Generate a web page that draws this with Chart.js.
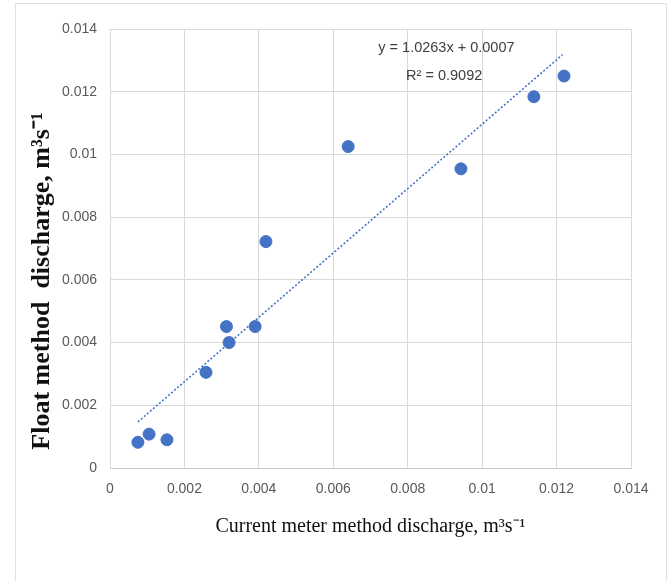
<!DOCTYPE html>
<html>
<head>
<meta charset="utf-8">
<script src="https://cdn.jsdelivr.net/npm/chart.js@4.4.1/dist/chart.umd.min.js"></script>
<style>
    body { margin: 0; background: #fff; }
    #moldura { position: absolute; left: 15px; top: 3px; width: 650px; height: 600px; border: 1px solid #e0e0e0; }
    #grafico1 { position: absolute; left: 0; top: 0; }
</style>
</head>
<body>
<div id="moldura"></div>
<canvas id="grafico1" width="672" height="581"></canvas>
<script>
// dados
const vazaoMolinete = [0.00075, 0.00105, 0.00153, 0.00258, 0.00313, 0.0032, 0.0039, 0.00419, 0.0064, 0.00943, 0.01139, 0.0122]
const vazaoFlutuador = [0.00082, 0.00108, 0.0009, 0.00305, 0.00451, 0.004, 0.00451, 0.00722, 0.01025, 0.00954, 0.01184, 0.0125]
const tendenciaX = [0.00075, 0.01216]
const tendenciaY = [0.00147, 0.01318]
const ticksX = ['0', '0.002', '0.004', '0.006', '0.008', '0.01', '0.012', '0.014']
const ticksY = ['0', '0.002', '0.004', '0.006', '0.008', '0.01', '0.012', '0.014']
const equacao = ['y = 1.0263x + 0.0007', 'R² = 0.9092']

const fonteTicks = "'Liberation Sans Narrow', 'Liberation Sans', sans-serif"

const pontos = vazaoMolinete.map((x, i) => ({ x: x, y: vazaoFlutuador[i] }))
const linha = tendenciaX.map((x, i) => ({ x: x, y: tendenciaY[i] }))

// escreve a equacao da reta
const textoEquacao = {
    id: 'textoEquacao',
    afterDatasetsDraw(chart) {
        const c = chart.ctx
        const sx = chart.scales.x
        const sy = chart.scales.y
        c.save()
        c.fillStyle = '#404040'
        c.font = '14.5px ' + fonteTicks
        c.textAlign = 'center'
        c.textBaseline = 'middle'
        c.fillText(equacao[0], sx.getPixelForValue(0.00904), sy.getPixelForValue(0.01338))
        c.fillText(equacao[1], sx.getPixelForValue(0.00898), sy.getPixelForValue(0.01250))
        c.restore()
    }
}

const ctx = document.getElementById('grafico1')

let grafico1 = new Chart(ctx, {
    type: 'scatter',
    data: {
        datasets: [
            {
                label: 'Vazão',
                data: pontos,
                backgroundColor: '#4472c4',
                borderColor: '#4472c4',
                pointRadius: 6,
                pointHoverRadius: 6,
                order: 1
            },
            {
                type: 'line',
                label: 'Linear',
                data: linha,
                borderColor: '#4472c4',
                borderWidth: 1.6,
                borderDash: [2, 2],
                pointRadius: 0,
                fill: false,
                order: 2
            }
        ]
    },
    options: {
        responsive: false,
        animation: false,
        layout: { padding: { top: 29, right: 41, left: 0, bottom: 0 } },
        plugins: {
            legend: { display: false },
            tooltip: { enabled: false }
        },
        scales: {
            x: {
                type: 'linear',
                min: 0,
                max: 0.014,
                afterFit: s => { s.height = 113 },
                ticks: {
                    stepSize: 0.002,
                    color: '#595959',
                    font: { family: fonteTicks, size: 14 },
                    padding: 13,
                    maxRotation: 0,
                    callback: (v, i) => ticksX[i]
                },
                grid: { color: '#d9d9d9', drawTicks: false },
                border: { color: '#c8c8c8' },
                title: {
                    display: true,
                    text: 'Current meter method discharge, m³s⁻¹',
                    color: '#111',
                    font: { family: "'Liberation Serif', 'Times New Roman', serif", size: 20 },
                    padding: { top: 0, bottom: 42 }
                }
            },
            y: {
                type: 'linear',
                min: 0,
                max: 0.014,
                afterFit: s => { s.width = 110 },
                ticks: {
                    stepSize: 0.002,
                    color: '#595959',
                    font: { family: fonteTicks, size: 14 },
                    padding: 13,
                    callback: (v, i) => ticksY[i]
                },
                grid: { color: '#d9d9d9', drawTicks: false },
                border: { color: '#d9d9d9' },
                title: {
                    display: true,
                    text: 'Float method  discharge, m³s⁻¹\u2003\u2003\u2002',
                    color: '#111',
                    font: { family: "'Liberation Serif', 'Times New Roman', serif", size: 26, weight: 'bold' },
                    padding: { top: 27, bottom: 0 }
                }
            }
        }
    },
    plugins: [textoEquacao]
})
</script>
</body>
</html>
